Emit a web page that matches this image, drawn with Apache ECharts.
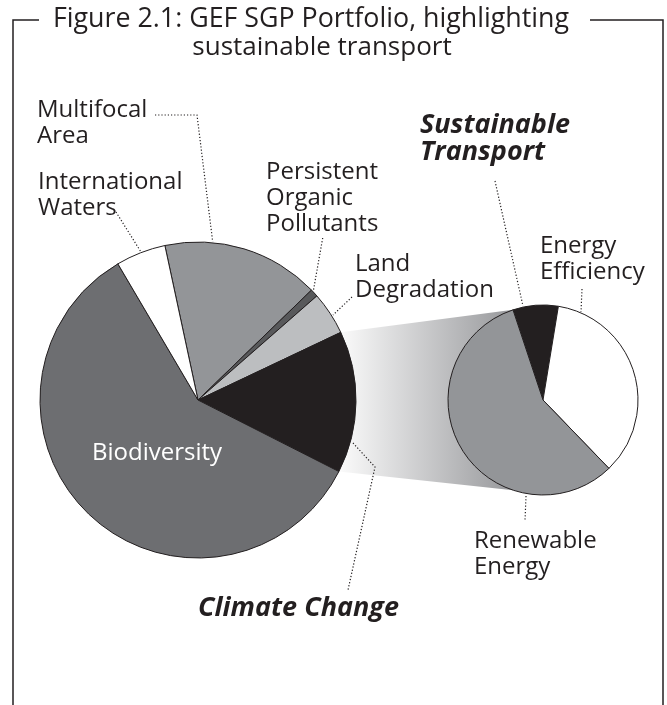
<!DOCTYPE html>
<html>
<head>
<meta charset="utf-8">
<script src="https://cdn.jsdelivr.net/npm/echarts@6/dist/echarts.min.js"></script>
<style>
  html, body { margin: 0; padding: 0; background: #fff; }
  #chart { width: 667px; height: 705px; }
</style>
</head>
<body>
<div id="chart"></div>
<script>
// GEF SGP portfolio shares (%), main pie, clockwise from Multifocal Area
const mainCategories = ['Multifocal Area', 'Persistent Organic Pollutants', 'Land Degradation', 'Climate Change', 'Biodiversity', 'International Waters'];
const mainValues = [16.1, 0.8, 4.4, 14.5, 59.0, 5.1];
const mainColors = ['#939598', '#58595b', '#bcbec0', '#231f20', '#6d6e71', '#ffffff'];

// Climate change breakdown, small pie, clockwise from Sustainable Transport
const climateCategories = ['Sustainable Transport', 'Energy Efficiency', 'Renewable Energy'];
const climateValues = [7.7, 35.2, 57.1];
const climateColors = ['#231f20', '#ffffff', '#939598'];

const INK = '#231f20';
const FONT = '"Open Sans", "DejaVu Sans", sans-serif';

const mainPie = { cx: 198, cy: 400, r: 158, start: 102.1 };
const smallPie = { cx: 543, cy: 400, r: 95, start: 108.4 };

// point on a pie rim, angle measured clockwise from 12 o'clock
const rim = (p, deg) => {
    const a = deg * Math.PI / 180;
    return [p.cx + p.r * Math.sin(a), p.cy - p.r * Math.cos(a)];
};

// edges of the Climate Change slice in the main pie
const total = mainValues.reduce((a, b) => a + b, 0);
const ccIndex = mainCategories.indexOf('Climate Change');
const before = mainValues.slice(0, ccIndex).reduce((a, b) => a + b, 0);
const ccStart = (90 - mainPie.start) + before / total * 360;
const ccEnd = ccStart + mainValues[ccIndex] / total * 360;
const smallTop = 90 - smallPie.start;
const connector = [rim(mainPie, ccStart), rim(smallPie, smallTop), rim(smallPie, 180 - smallTop), rim(mainPie, ccEnd)];

const label = (lines, x, baseline, opt = {}) => {
    const size = opt.size || 24;
    const lh = opt.lh || 26;
    return {
        type: 'text',
        z: 20,
        style: {
            text: lines.join('\n'),
            x: x,
            y: baseline - (lh / 2 + 0.29 * size),
            fontStyle: opt.italic ? 'italic' : 'normal',
            fontWeight: opt.weight || 'normal',
            fontSize: size,
            fontFamily: FONT,
            lineHeight: lh,
            fill: opt.fill || INK,
            align: opt.align || 'left',
            verticalAlign: 'top'
        }
    };
};

const leader = (points) => ({
    type: 'polyline',
    z: 15,
    shape: { points: points },
    style: { stroke: INK, lineWidth: 1.2, lineDash: [1.2, 2], fill: null }
});

const pieSeries = (p, names, values, colors) => ({
    type: 'pie',
    center: [p.cx, p.cy],
    radius: p.r,
    startAngle: p.start,
    clockwise: true,
    silent: true,
    animation: false,
    label: { show: false },
    labelLine: { show: false },
    itemStyle: { borderColor: INK, borderWidth: 1 },
    data: names.map((n, i) => ({ name: n, value: values[i], itemStyle: { color: colors[i] } }))
});

const chart = echarts.init(document.getElementById('chart'));
chart.setOption({
    backgroundColor: '#ffffff',
    animation: false,
    series: [
        pieSeries(mainPie, mainCategories, mainValues, mainColors),
        pieSeries(smallPie, climateCategories, climateValues, climateColors)
    ],
    graphic: [
        {
            type: 'polygon',
            z: 0,
            shape: { points: connector },
            style: {
                fill: new echarts.graphic.LinearGradient(0, 0, 1, 0, [
                    { offset: 0, color: '#fbfbfb' },
                    { offset: 1, color: '#97989b' }
                ])
            }
        },
        // frame
        { type: 'polyline', z: 10, shape: { points: [[39, 20], [13, 20], [13, 705]] }, style: { stroke: INK, lineWidth: 1.5, fill: null } },
        { type: 'polyline', z: 10, shape: { points: [[590, 20], [663, 20], [663, 705]] }, style: { stroke: INK, lineWidth: 1.5, fill: null } },
        label(['Figure 2.1: GEF SGP Portfolio, highlighting'], 311, 27, { size: 26.8, lh: 28, align: 'center' }),
        label(['sustainable transport'], 322, 55, { size: 26, lh: 28, align: 'center' }),
        label(['Multifocal', 'Area'], 37, 117),
        label(['International', 'Waters'], 38, 189),
        label(['Persistent', 'Organic', 'Pollutants'], 266, 179),
        label(['Land', 'Degradation'], 355, 271),
        label(['Sustainable', 'Transport'], 420, 133, { size: 27, weight: 'bold', italic: true, lh: 27 }),
        label(['Energy', 'Efficiency'], 540, 253),
        label(['Renewable', 'Energy'], 474, 548),
        label(['Biodiversity'], 92, 460, { fill: '#ffffff' }),
        label(['Climate Change'], 198, 616, { size: 27, weight: 'bold', italic: true }),
        leader([[155, 115], [197, 115], [212.7, 241.7]]),
        leader([[116, 212], [141, 252]]),
        leader([[322.7, 238], [313.5, 290]]),
        leader([[352, 297], [333, 315]]),
        leader([[495, 181], [523, 306]]),
        leader([[582, 289], [581, 312]]),
        leader([[526, 496], [525, 521]]),
        leader([[353, 443], [375, 467], [348, 590]])
    ]
});
</script>
</body>
</html>
